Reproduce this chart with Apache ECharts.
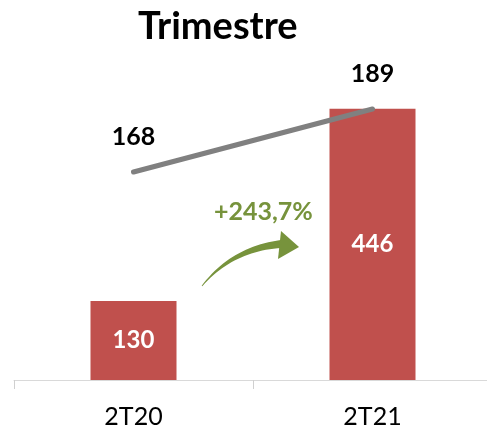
<!DOCTYPE html>
<html>
<head>
<meta charset="utf-8">
<script src="https://cdn.jsdelivr.net/npm/echarts@6/dist/echarts.min.js"></script>
<style>
  html, body { margin: 0; padding: 0; background: #fff; }
  #chart { width: 487px; height: 431px; }
</style>
</head>
<body>
<div id="chart"></div>
<script>
// 数据
const categories = ['2T20', '2T21'];
const barValues = [130, 446];
const lineValues = [168, 189];
const growthLabel = '+243,7%';

const FONT = 'Lato';
const GREEN = '#77933C';

// 箭头形状（弯曲、由细到粗）
function arrowPoints() {
  const p0 = [202, 286], p1 = [232, 249], p2 = [281, 244];
  const upper = [], lower = [];
  const n = 24;
  for (let i = 0; i <= n; i++) {
    const t = i / n;
    const x = (1 - t) * (1 - t) * p0[0] + 2 * (1 - t) * t * p1[0] + t * t * p2[0];
    const y = (1 - t) * (1 - t) * p0[1] + 2 * (1 - t) * t * p1[1] + t * t * p2[1];
    const dx = 2 * (1 - t) * (p1[0] - p0[0]) + 2 * t * (p2[0] - p1[0]);
    const dy = 2 * (1 - t) * (p1[1] - p0[1]) + 2 * t * (p2[1] - p1[1]);
    const len = Math.sqrt(dx * dx + dy * dy);
    const w = (0.4 + 3.6 * t);
    const nx = -dy / len, ny = dx / len;
    upper.push([x + nx * w, y + ny * w]);
    lower.push([x - nx * w, y - ny * w]);
  }
  return upper.concat(lower.reverse());
}

const myChart = echarts.init(document.getElementById('chart'));

const option = {
  animation: false,
  title: {
    text: 'Trimestre',
    left: 133,
    top: 3,
    textStyle: { fontFamily: FONT, fontSize: 38, fontWeight: 'bold', color: '#000' }
  },
  grid: { left: 14, width: 478, top: 76, bottom: 51, containLabel: false, outerBoundsMode: 'none' },
  xAxis: {
    type: 'category',
    data: categories,
    axisLine: { lineStyle: { color: '#d9d9d9', width: 1 } },
    axisTick: { show: true, length: 9, lineStyle: { color: '#d0d0d0', width: 1 } },
    axisLabel: { fontFamily: FONT, fontSize: 25, color: '#000', margin: 24 }
  },
  yAxis: [
    { type: 'value', min: 0, max: 500, show: false, splitLine: { show: false } },
    { type: 'value', min: 98.67, max: 200, show: false, splitLine: { show: false } }
  ],
  series: [
    {
      type: 'bar',
      data: barValues,
      barWidth: 86,
      itemStyle: { color: '#C0504D' },
      label: {
        show: true,
        position: 'inside',
        fontFamily: FONT,
        fontSize: 24,
        fontWeight: 'bold',
        color: '#fff'
      }
    },
    {
      type: 'line',
      yAxisIndex: 1,
      data: lineValues,
      symbol: 'circle',
      symbolSize: 1,
      showSymbol: true,
      itemStyle: { color: 'rgba(0,0,0,0)' },
      lineStyle: { color: '#808080', width: 5, cap: 'round' },
      label: {
        show: true,
        position: 'top',
        distance: 22,
        fontFamily: FONT,
        fontSize: 25,
        fontWeight: 'bold',
        color: '#000'
      },
      z: 3
    }
  ],
  graphic: [
    {
      type: 'polygon',
      shape: { points: arrowPoints() },
      style: { fill: GREEN },
      z: 10
    },
    {
      type: 'polygon',
      shape: { points: [[281, 231], [299, 247], [278, 259]] },
      style: { fill: GREEN },
      z: 10
    },
    {
      type: 'text',
      left: 214,
      top: 199,
      style: {
        text: growthLabel,
        fontFamily: FONT,
        fontSize: 25,
        fontWeight: 'bold',
        fill: GREEN
      },
      z: 10
    }
  ]
};

myChart.setOption(option);
</script>
</body>
</html>
